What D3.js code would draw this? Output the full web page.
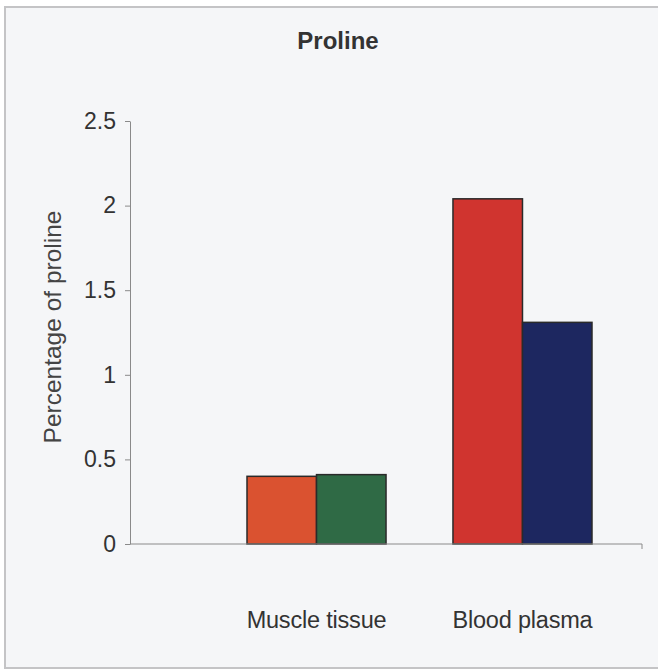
<!DOCTYPE html>
<html>
<head>
<meta charset="utf-8">
<script src="https://cdn.jsdelivr.net/npm/d3@7"></script>
<style>
  body { margin: 0; background: #fff; }
  svg { display: block; font-family: "Liberation Sans", Arial, sans-serif; }
</style>
</head>
<body>
<svg id="chart"></svg>
<script>
// data
const categories = ['Muscle tissue', 'Blood plasma']
const series = ['a', 'b']
const muscleValues = [0.40, 0.41]
const plasmaValues = [2.04, 1.31]
const barColors = [['#da5230', '#2f6a45'], ['#d0342f', '#1d2760']]
const yTicks = [0, 0.5, 1, 1.5, 2, 2.5]

const width = 658, height = 670
const plot = {left: 130, right: 642, top: 121, bottom: 544}

const svg = d3.select('#chart').attr('width', width).attr('height', height)

// frame
svg.append('rect')
    .attr('x', 5).attr('y', 7)
    .attr('width', 665).attr('height', 661)
    .attr('fill', '#f5f6f8')
    .attr('stroke', '#c4c4c6')
    .attr('stroke-width', 2)

const y = d3.scaleLinear().domain([0, 2.5]).range([plot.bottom, plot.top])
const x = d3.scaleBand().domain(categories).range([247, 592]).paddingInner(0.325)
const xs = d3.scaleBand().domain(series).range([0, x.bandwidth()])

const rows = categories.map((c, i) => ({
    cat: c,
    vals: [muscleValues, plasmaValues][i],
    colors: barColors[i]
}))

// bars
const groups = svg.selectAll('.grp').data(rows)
    .enter().append('g')
    .attr('class', 'grp')
    .attr('transform', d => 'translate(' + x(d.cat) + ',0)')

groups.selectAll('rect')
    .data(d => d.vals.map((v, j) => ({ key: series[j], v: v, fill: d.colors[j] })))
    .enter().append('rect')
    .attr('x', d => xs(d.key))
    .attr('y', d => y(d.v))
    .attr('width', xs.bandwidth())
    .attr('height', d => y(0) - y(d.v))
    .attr('fill', d => d.fill)
    .attr('stroke', '#2a2a2a')
    .attr('stroke-width', 1.5)

// y axis
const yAxis = svg.append('g')
    .attr('transform', 'translate(' + plot.left + ',0)')
    .call(d3.axisLeft(y).tickValues(yTicks).tickFormat(d => d).tickSize(5).tickPadding(9).tickSizeOuter(0))
yAxis.select('.domain').attr('stroke', '#8a8a8a')
yAxis.selectAll('.tick line').attr('stroke', '#8a8a8a')
yAxis.selectAll('.tick text')
    .attr('font-size', 23)
    .attr('fill', '#333')
    .attr('font-family', '"Liberation Sans", Arial, sans-serif')

// x axis line with end tick
svg.append('path')
    .attr('d', 'M' + plot.left + ',' + plot.bottom + 'H' + plot.right + 'V' + (plot.bottom + 5))
    .attr('fill', 'none')
    .attr('stroke', '#8a8a8a')

svg.selectAll('.xlab').data(categories)
    .enter().append('text')
    .attr('class', 'xlab')
    .attr('x', d => x(d) + x.bandwidth() / 2)
    .attr('y', 628)
    .attr('text-anchor', 'middle')
    .attr('font-size', 23.5)
    .attr('fill', '#333')
    .attr('letter-spacing', -0.2)
    .text(d => d)

// titles
svg.append('text')
    .attr('x', 338).attr('y', 49)
    .attr('text-anchor', 'middle')
    .attr('font-size', 24)
    .attr('font-weight', 'bold')
    .attr('fill', '#333')
    .text('Proline')

svg.append('text')
    .attr('transform', 'translate(61,327) rotate(-90)')
    .attr('text-anchor', 'middle')
    .attr('font-size', 24.5)
    .attr('fill', '#444')
    .text('Percentage of proline')
</script>
</body>
</html>
